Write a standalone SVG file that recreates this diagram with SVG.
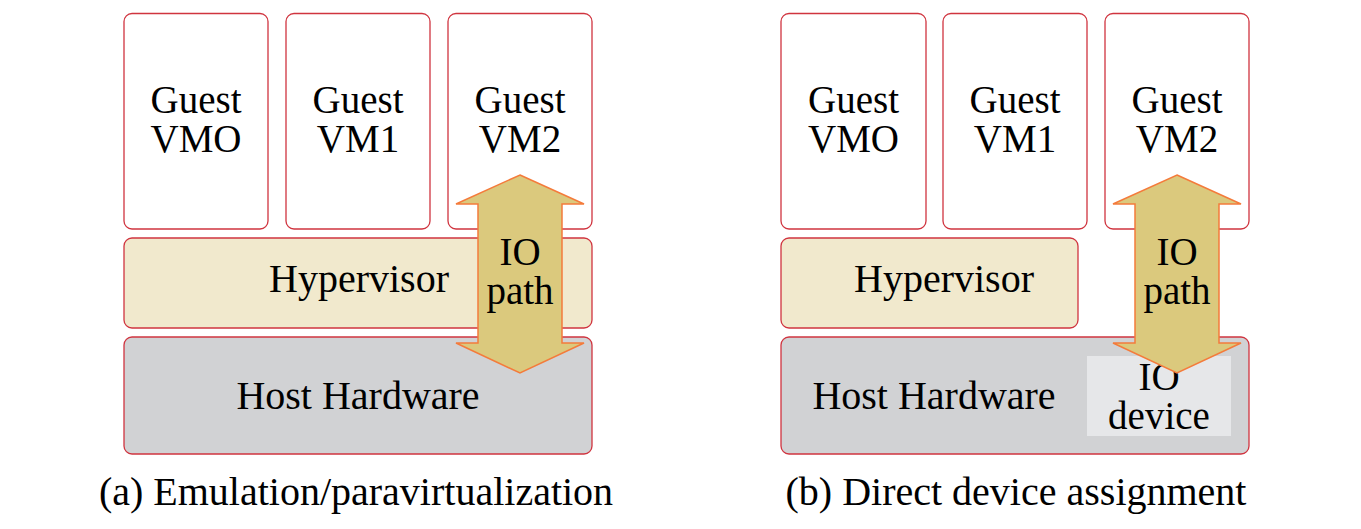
<svg xmlns="http://www.w3.org/2000/svg" width="1361" height="529" viewBox="0 0 1361 529">
<style>
.box{stroke:#d0343f;stroke-width:1.3}
.vm{fill:#ffffff}
.hyp{fill:#f1e9cd}
.hw{fill:#d1d2d4}
.dev{fill:#e6e7e9}
.arrow{fill:#dbc97d;stroke:#f47b3b;stroke-width:1.5}
text{font-family:"Liberation Serif","Times New Roman",serif;font-size:39px;fill:#000;text-anchor:middle}
.one{font-size:40px}
</style>
<rect width="1361" height="529" fill="#ffffff"/>
<g id="panel-a">
<g id="a-vm0"><rect class="box vm" x="124" y="13.5" width="144" height="215.5" rx="8"/><text x="196" y="113">Guest</text><text x="196" y="152">VMO</text></g>
<g id="a-vm1"><rect class="box vm" x="286" y="13.5" width="144" height="215.5" rx="8"/><text x="358" y="113">Guest</text><text x="358" y="152">VM1</text></g>
<g id="a-vm2"><rect class="box vm" x="448" y="13.5" width="144" height="215.5" rx="8"/><text x="520" y="113">Guest</text><text x="520" y="152">VM2</text></g>
<g id="a-hyp"><rect class="box hyp" x="124" y="238" width="468" height="90" rx="8"/><text class="one" x="359" y="292">Hypervisor</text></g>
<g id="a-hw"><rect class="box hw" x="124" y="337" width="468" height="117" rx="8"/><text class="one" x="358" y="409">Host Hardware</text></g>
<g id="a-connectors"><g id="a-iopath"><polygon class="arrow" points="520,175 584,204 562,204 562,343 584,343 520,373 456,343 478,343 478,204 456,204"/><text x="520" y="265">IO</text><text x="520" y="304">path</text></g></g>
<text class="one" x="356" y="505">(a) Emulation/paravirtualization</text>
</g>
<g id="panel-b">
<g id="b-vm0"><rect class="box vm" x="781" y="13.5" width="145" height="215.5" rx="8"/><text x="853.5" y="113">Guest</text><text x="853.5" y="152">VMO</text></g>
<g id="b-vm1"><rect class="box vm" x="943" y="13.5" width="144" height="215.5" rx="8"/><text x="1015" y="113">Guest</text><text x="1015" y="152">VM1</text></g>
<g id="b-vm2"><rect class="box vm" x="1105" y="13.5" width="144" height="215.5" rx="8"/><text x="1177" y="113">Guest</text><text x="1177" y="152">VM2</text></g>
<g id="b-hyp"><rect class="box hyp" x="781" y="238" width="297" height="90" rx="8"/><text class="one" x="944" y="292">Hypervisor</text></g>
<g id="b-hw"><rect class="box hw" x="781" y="337" width="468" height="117" rx="8"/><text class="one" x="934" y="409">Host Hardware</text></g>
<g id="b-dev"><rect class="dev" x="1087" y="356" width="144" height="80"/><text x="1159" y="390">IO</text><text x="1159" y="429">device</text></g>
<g id="b-connectors"><g id="b-iopath"><polygon class="arrow" points="1177,175 1241,204 1219,204 1219,343 1241,343 1177,373 1113,343 1135,343 1135,204 1113,204"/><text x="1177" y="265">IO</text><text x="1177" y="304">path</text></g></g>
<text class="one" x="1016" y="505">(b) Direct device assignment</text>
</g>
</svg>
